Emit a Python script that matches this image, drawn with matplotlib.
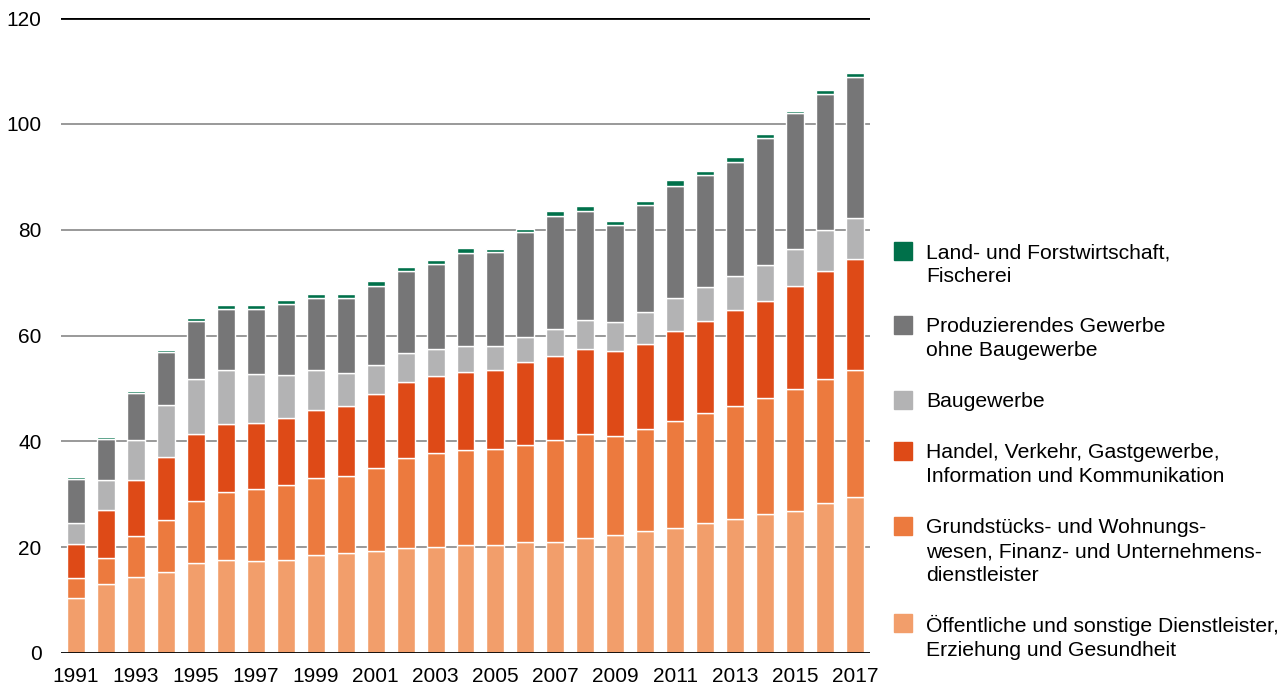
import numpy as np
import matplotlib
matplotlib.use("Agg")
import matplotlib.pyplot as plt
from matplotlib.patches import Rectangle

plt.rcParams['font.family'] = ['Liberation Sans', 'DejaVu Sans']

# Data
years = list(range(1991, 2018))
oeffentlich = [10.3, 13.0, 14.3, 15.3, 17.1, 17.5, 17.3, 17.6, 18.5, 18.9, 19.2, 19.8, 20.1, 20.4,
               20.4, 20.9, 20.9, 21.7, 22.3, 23.0, 23.6, 24.5, 25.4, 26.3, 26.9, 28.4, 29.4]
grundstuecke = [3.8, 4.9, 7.8, 9.9, 11.7, 12.9, 13.7, 14.2, 14.6, 14.6, 15.7, 17.0, 17.7, 17.9,
                18.2, 18.5, 19.3, 19.6, 18.8, 19.4, 20.2, 20.8, 21.3, 21.9, 22.9, 23.4, 24.0]
handel = [6.5, 9.1, 10.6, 11.8, 12.5, 12.8, 12.5, 12.7, 12.9, 13.1, 14.1, 14.5, 14.5, 14.8,
          14.8, 15.5, 15.9, 16.2, 16.0, 16.0, 17.1, 17.4, 18.1, 18.3, 19.5, 20.3, 21.0]
bau = [3.9, 5.7, 7.5, 9.8, 10.5, 10.3, 9.2, 8.0, 7.5, 6.4, 5.5, 5.4, 5.2, 5.0,
       4.6, 4.8, 5.1, 5.5, 5.4, 6.0, 6.1, 6.4, 6.4, 6.8, 7.1, 7.8, 7.8]
produzierend = [8.4, 7.8, 8.9, 10.0, 10.9, 11.6, 12.3, 13.5, 13.5, 14.0, 14.8, 15.5, 16.0, 17.5,
                17.8, 19.8, 21.4, 20.5, 18.4, 20.3, 21.3, 21.2, 21.5, 24.1, 25.6, 25.8, 26.6]
land = [0.4, 0.4, 0.5, 0.5, 0.6, 0.7, 0.8, 0.7, 0.9, 0.9, 1.0, 0.8, 0.8, 1.0,
        0.6, 0.7, 0.9, 0.9, 0.8, 0.7, 1.0, 0.8, 1.0, 0.7, 0.5, 0.7, 0.8]

labels = ["Öffentliche und sonstige Dienstleister,\nErziehung und Gesundheit",
          "Grundstücks- und Wohnungs-\nwesen, Finanz- und Unternehmens-\ndienstleister",
          "Handel, Verkehr, Gastgewerbe,\nInformation und Kommunikation",
          "Baugewerbe",
          "Produzierendes Gewerbe\nohne Baugewerbe",
          "Land- und Forstwirtschaft,\nFischerei"]
colors = ["#F29E6B", "#EC7A3E", "#DE4A17", "#B3B3B4", "#767677", "#00704A"]
series = [oeffentlich, grundstuecke, handel, bau, produzierend, land]

fig = plt.figure(figsize=(12.86, 6.89), dpi=100)
ax = fig.add_axes([61 / 1286, 1 - 653 / 689, (870 - 61) / 1286, (653 - 18) / 689])

x = np.arange(len(years))
bottom = np.zeros(len(years))
for vals, col in zip(series, colors):
    ax.bar(x, vals, bottom=bottom, width=0.6, color=col, edgecolor="white", linewidth=1.0, zorder=2)
    bottom += np.array(vals)

ax.set_xlim(-0.5, len(years) - 0.5)
ax.set_ylim(0, 120)
ax.set_yticks(range(0, 121, 20))
ax.set_xticks(x[::2])
ax.set_xticklabels([str(y) for y in years[::2]])
for yv in range(20, 101, 20):
    ax.axhline(yv, color="#999999", linewidth=1.4, zorder=1)
ax.axhline(120, color="black", linewidth=2, zorder=3)
ax.axhline(0, color="black", linewidth=2, zorder=3)
for s in ax.spines.values():
    s.set_visible(False)
ax.tick_params(axis="both", length=0, labelsize=15, colors="black")
ax.tick_params(axis="y", pad=14)
ax.tick_params(axis="x", pad=10)

# legend drawn by hand, top entry first
leg_tops = [242, 316, 391, 442, 517, 614]
for i, top in enumerate(leg_tops):
    k = len(series) - 1 - i
    fig.patches.append(Rectangle((894 / 1286, 1 - (top + 18) / 689), 18 / 1286, 18 / 689,
                                 transform=fig.transFigure, color=colors[k]))
    fig.text(926 / 1286, 1 - (top + 1) / 689, labels[k], fontsize=15.2, va="top", ha="left",
             linespacing=1.34)

fig.savefig("out.png", dpi=100)
